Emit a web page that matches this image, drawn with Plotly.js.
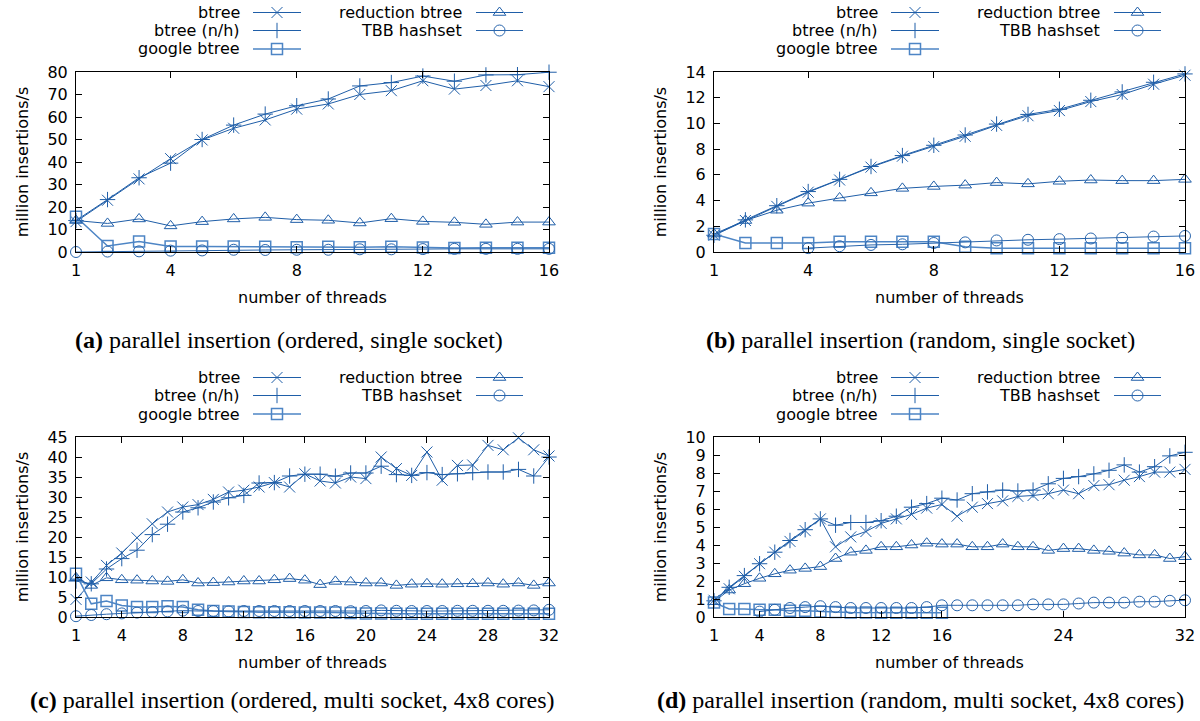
<!DOCTYPE html>
<html><head><meta charset="utf-8">
<script src="https://cdn.plot.ly/plotly-3.0.1.min.js"></script>
<style>html,body{margin:0;padding:0;background:#fff}#chart{width:1200px;height:721px}</style>
</head><body><div id="chart"></div>
<script>
// ---------------- data ----------------
const threads16 = [1,2,3,4,5,6,7,8,9,10,11,12,13,14,15,16];
const threads32 = [1,2,3,4,5,6,7,8,9,10,11,12,13,14,15,16,17,18,19,20,21,22,23,24,25,26,27,28,29,30,31,32];

const seriesNames = ["btree", "btree (n/h)", "google btree", "reduction btree", "TBB hashset"];

const xTicksSingle = [1,4,8,12,16];
const xTicksMultiOrdered = [1,4,8,12,16,20,24,28,32];
const xTicksMultiRandom = [1,4,8,12,16,24,32];
const yTicksA = [0,10,20,30,40,50,60,70,80];
const yTicksB = [0,2,4,6,8,10,12,14];
const yTicksC = [0,5,10,15,20,25,30,35,40,45];
const yTicksD = [0,1,2,3,4,5,6,7,8,9,10];

// (a) ordered, single socket
const a_btree     = [13.5,23,32.5,41.5,49.8,55,58.7,63.5,65.8,70,71.7,76.1,72.4,74,76.1,73.5];
const a_btreeNH   = [14,23.3,33,39.5,50,56.4,61.3,65,68,73.8,75.3,78.2,75.9,78.7,78.8,79.9];
const a_google    = [15.7,2.7,4.7,2.5,2.5,2.4,2.3,2.1,2.3,2.1,2.3,2.0,1.8,1.9,1.9,1.9];
const a_reduction = [14,12.7,14.7,11.6,13.5,14.7,15.4,14.4,14.1,12.9,14.8,13.6,13.2,12.3,13.3,13.3];
const a_tbb       = [0,0.2,0.3,0.6,0.7,1.0,0.9,1.0,1.0,1.2,1.2,1.3,1.4,1.4,1.4,1.4];

// (b) random, single socket
const b_btree     = [1.3,2.45,3.55,4.65,5.6,6.6,7.45,8.2,9.0,9.85,10.6,11.0,11.7,12.25,13.05,13.75];
const b_btreeNH   = [1.3,2.5,3.6,4.7,5.65,6.65,7.5,8.3,9.1,9.95,10.7,11.1,11.8,12.45,13.2,13.85];
const b_google    = [1.4,0.7,0.7,0.7,0.8,0.8,0.8,0.8,0.4,0.3,0.3,0.3,0.3,0.3,0.3,0.3];
const b_reduction = [1.4,2.45,3.25,3.8,4.2,4.6,4.95,5.1,5.2,5.4,5.3,5.5,5.6,5.55,5.55,5.65];
const b_tbb       = [null,null,null,0.3,0.45,0.55,0.6,0.7,0.75,0.9,0.95,1.0,1.05,1.1,1.2,1.25];

// (c) ordered, multi socket
const c_btree     = [4.4,8.75,12.9,16,19.8,23.3,26.25,27.5,28.1,29.4,31.25,31.7,32.5,33.6,32.5,35.8,34,33.5,35,34.6,40,37.1,35.4,41.25,34.2,37.9,38,42.9,41.8,44.8,41.8,40.25];
const c_btreeNH   = [9,8.3,12,14.6,16.7,20.6,23.2,26.25,27.3,28.75,29.8,30.4,33.5,33.6,35.25,35.7,35.7,35.2,36,36,37.7,35.6,35.4,36.1,35.6,35.8,36.1,36.25,36.25,36.9,35.25,40];
const c_google    = [10.8,3.3,4.0,2.9,2.5,2.5,2.7,2.5,1.8,1.5,1.4,1.25,1.2,1.2,1.2,1.1,1.1,1.1,1.0,0.85,0.85,0.8,0.8,0.8,0.8,0.8,0.8,0.8,0.8,0.8,0.8,0.8];
const c_reduction = [9.8,7.9,9.8,9.3,9.2,9.0,8.9,9.3,8.5,8.6,8.75,9.0,9.0,9.3,9.6,9.2,8.1,8.9,8.75,8.5,8.5,7.9,8.2,8.3,8.2,8.3,8.3,8.5,8.2,8.5,7.9,8.5];
const c_tbb       = [0.2,0.5,0.7,0.9,1.1,1.25,1.4,1.6,1.5,1.5,1.4,1.5,1.5,1.5,1.5,1.5,1.5,1.5,1.45,1.5,1.65,1.55,1.5,1.5,1.5,1.55,1.55,1.55,1.55,1.6,1.65,1.8];

// (d) random, multi socket
const d_btree     = [0.93,1.57,2.26,2.96,3.6,4.2,4.8,5.45,3.9,4.45,4.75,5.2,5.45,5.7,6.05,6.25,5.6,6.1,6.3,6.45,6.7,6.75,6.85,7.05,6.85,7.3,7.35,7.6,7.8,8.05,8.05,8.2];
const d_btreeNH   = [0.9,1.65,2.3,2.96,3.6,4.25,4.85,5.45,5.1,5.25,5.25,5.35,5.6,6.1,6.3,6.6,6.5,6.85,6.95,7.05,7.0,7.05,7.4,7.7,7.8,7.95,8.15,8.45,8.05,8.35,8.95,9.15];
const d_google    = [0.8,0.45,0.45,0.4,0.4,0.35,0.35,0.3,0.28,0.25,0.25,0.23,0.23,0.23,0.23,0.23,null,null,null,null,null,null,null,null,null,null,null,null,null,null,null,null];
const d_reduction = [0.85,1.5,1.85,2.15,2.4,2.6,2.7,2.8,3.25,3.6,3.7,3.9,3.9,4.0,4.1,4.05,4.05,3.9,3.9,4.05,3.9,3.9,3.7,3.8,3.8,3.7,3.65,3.55,3.45,3.45,3.25,3.35];
const d_tbb       = [null,null,null,0.3,0.4,0.5,0.55,0.6,0.55,0.5,0.5,0.5,0.5,0.5,0.55,0.65,0.65,0.65,0.65,0.65,0.65,0.7,0.7,0.7,0.75,0.8,0.8,0.8,0.85,0.85,0.9,0.93];

const captions = [
  "<b>(a)</b> parallel insertion (ordered, single socket)",
  "<b>(b)</b> parallel insertion (random, single socket)",
  "<b>(c)</b> parallel insertion (ordered, multi socket, 4x8 cores)",
  "<b>(d)</b> parallel insertion (random, multi socket, 4x8 cores)"
];

// ---------------- style ----------------
const W = 1200, H = 721;
const symbols = ["x-thin-open", "cross-thin-open", "square-open", "triangle-up-open", "circle-open"];
const colors  = ["#1f5ea8", "#1f5ea8", "#4d85c5", "#1f5ea8", "#2a66ad"];
const lineW   = [1, 1, 1.5, 1, 1];
const FONT = "DejaVu Sans";
const FS = 16;
const MS = 11;

const panels = [
  {x: threads16, ys: [a_btree,a_btreeNH,a_google,a_reduction,a_tbb], frame:[76,549,72,252],   yr:[0,80], yt:yTicksA, xt:xTicksSingle, xr:[1,16], cap:[289,340]},
  {x: threads16, ys: [b_btree,b_btreeNH,b_google,b_reduction,b_tbb], frame:[714,1185,72,252], yr:[0,14], yt:yTicksB, xt:xTicksSingle, xr:[1,16], cap:[920,340]},
  {x: threads32, ys: [c_btree,c_btreeNH,c_google,c_reduction,c_tbb], frame:[76,549,437,617],  yr:[0,45], yt:yTicksC, xt:xTicksMultiOrdered, xr:[1,32], cap:[292,700]},
  {x: threads32, ys: [d_btree,d_btreeNH,d_google,d_reduction,d_tbb], frame:[714,1185,437,617],yr:[0,10], yt:yTicksD, xt:xTicksMultiRandom, xr:[1,32], cap:[920,700]}
];

const traces = [];
const layout = {
  width: W, height: H,
  margin: {l:0, r:0, t:0, b:0},
  paper_bgcolor: "#fff", plot_bgcolor: "rgba(0,0,0,0)",
  showlegend: false,
  annotations: [],
  font: {family: FONT, size: FS, color: "#000"}
};

// overlay axis in pixel units for the legend keys
layout.xaxis5 = {domain:[0,1], range:[0,W], visible:false, fixedrange:true, anchor:"y5"};
layout.yaxis5 = {domain:[0,1], range:[H,0], visible:false, fixedrange:true, anchor:"x5"};

panels.forEach((p, i) => {
  const k = i + 1;
  const xa = "xaxis" + (k === 1 ? "" : k), ya = "yaxis" + (k === 1 ? "" : k);
  const xr = "x" + (k === 1 ? "" : k), yr = "y" + (k === 1 ? "" : k);
  const [l, r, t, b] = p.frame;
  layout[xa] = {
    domain: [l / W, r / W], range: p.xr, anchor: yr,
    tickvals: p.xt, ticks: "inside", ticklen: 6, tickcolor: "#000",
    showline: true, linecolor: "#000", linewidth: 1, mirror: "ticks",
    showgrid: false, zeroline: false, ticklabelstandoff: 4,
    tickfont: {family: FONT, size: FS, color: "#000"},
    title: {text: "number of threads", font: {family: FONT, size: FS, color: "#000"}, standoff: 12}
  };
  layout[ya] = {
    domain: [1 - b / H, 1 - t / H], range: p.yr, anchor: xr,
    tickvals: p.yt, ticks: "inside", ticklen: 6, tickcolor: "#000",
    showline: true, linecolor: "#000", linewidth: 1, mirror: "ticks",
    showgrid: false, zeroline: false, ticklabelstandoff: 4,
    tickfont: {family: FONT, size: FS, color: "#000"},
    title: {text: "million insertions/s", font: {family: FONT, size: FS, color: "#000"}, standoff: 14}
  };
  p.ys.forEach((vals, s) => {
    traces.push({
      type: "scatter", mode: "lines+markers", x: p.x, y: vals, name: seriesNames[s],
      xaxis: xr, yaxis: yr, cliponaxis: false, connectgaps: false,
      line: {color: colors[s], width: lineW[s]},
      marker: {symbol: symbols[s], size: MS, color: colors[s], line: {color: colors[s], width: lineW[s]}}
    });
  });
  // legend keys (gnuplot style: text right-aligned, key sample to the right)
  const rowY = [t - 59.5, t - 41.5, t - 23];
  const cols = [{textR: l + 166, s0: l + 177, s1: l + 225}, {textR: l + 388, s0: l + 400, s1: l + 447}];
  seriesNames.forEach((nm, s) => {
    const c = cols[s < 3 ? 0 : 1];
    const yy = rowY[s < 3 ? s : s - 3];
    layout.annotations.push({
      xref: "paper", yref: "paper", x: c.textR / W, y: 1 - yy / H,
      xanchor: "right", yanchor: "middle", showarrow: false, text: nm,
      font: {family: FONT, size: FS, color: "#000"}
    });
    traces.push({
      type: "scatter", mode: "lines+markers", xaxis: "x5", yaxis: "y5", hoverinfo: "skip",
      x: [c.s0, (c.s0 + c.s1) / 2, c.s1], y: [yy, yy, yy], cliponaxis: false,
      line: {color: colors[s], width: lineW[s]},
      marker: {symbol: symbols[s], size: MS, color: colors[s], opacity: [0, 1, 0], line: {color: colors[s], width: lineW[s]}}
    });
  });
  layout.annotations.push({
    xref: "paper", yref: "paper", x: p.cap[0] / W, y: 1 - p.cap[1] / H,
    xanchor: "center", yanchor: "middle", showarrow: false, text: captions[i],
    font: {family: "Liberation Serif", size: 24, color: "#000"}
  });
});

Plotly.newPlot("chart", traces, layout, {displayModeBar: false, staticPlot: true});
</script>
</body></html>
